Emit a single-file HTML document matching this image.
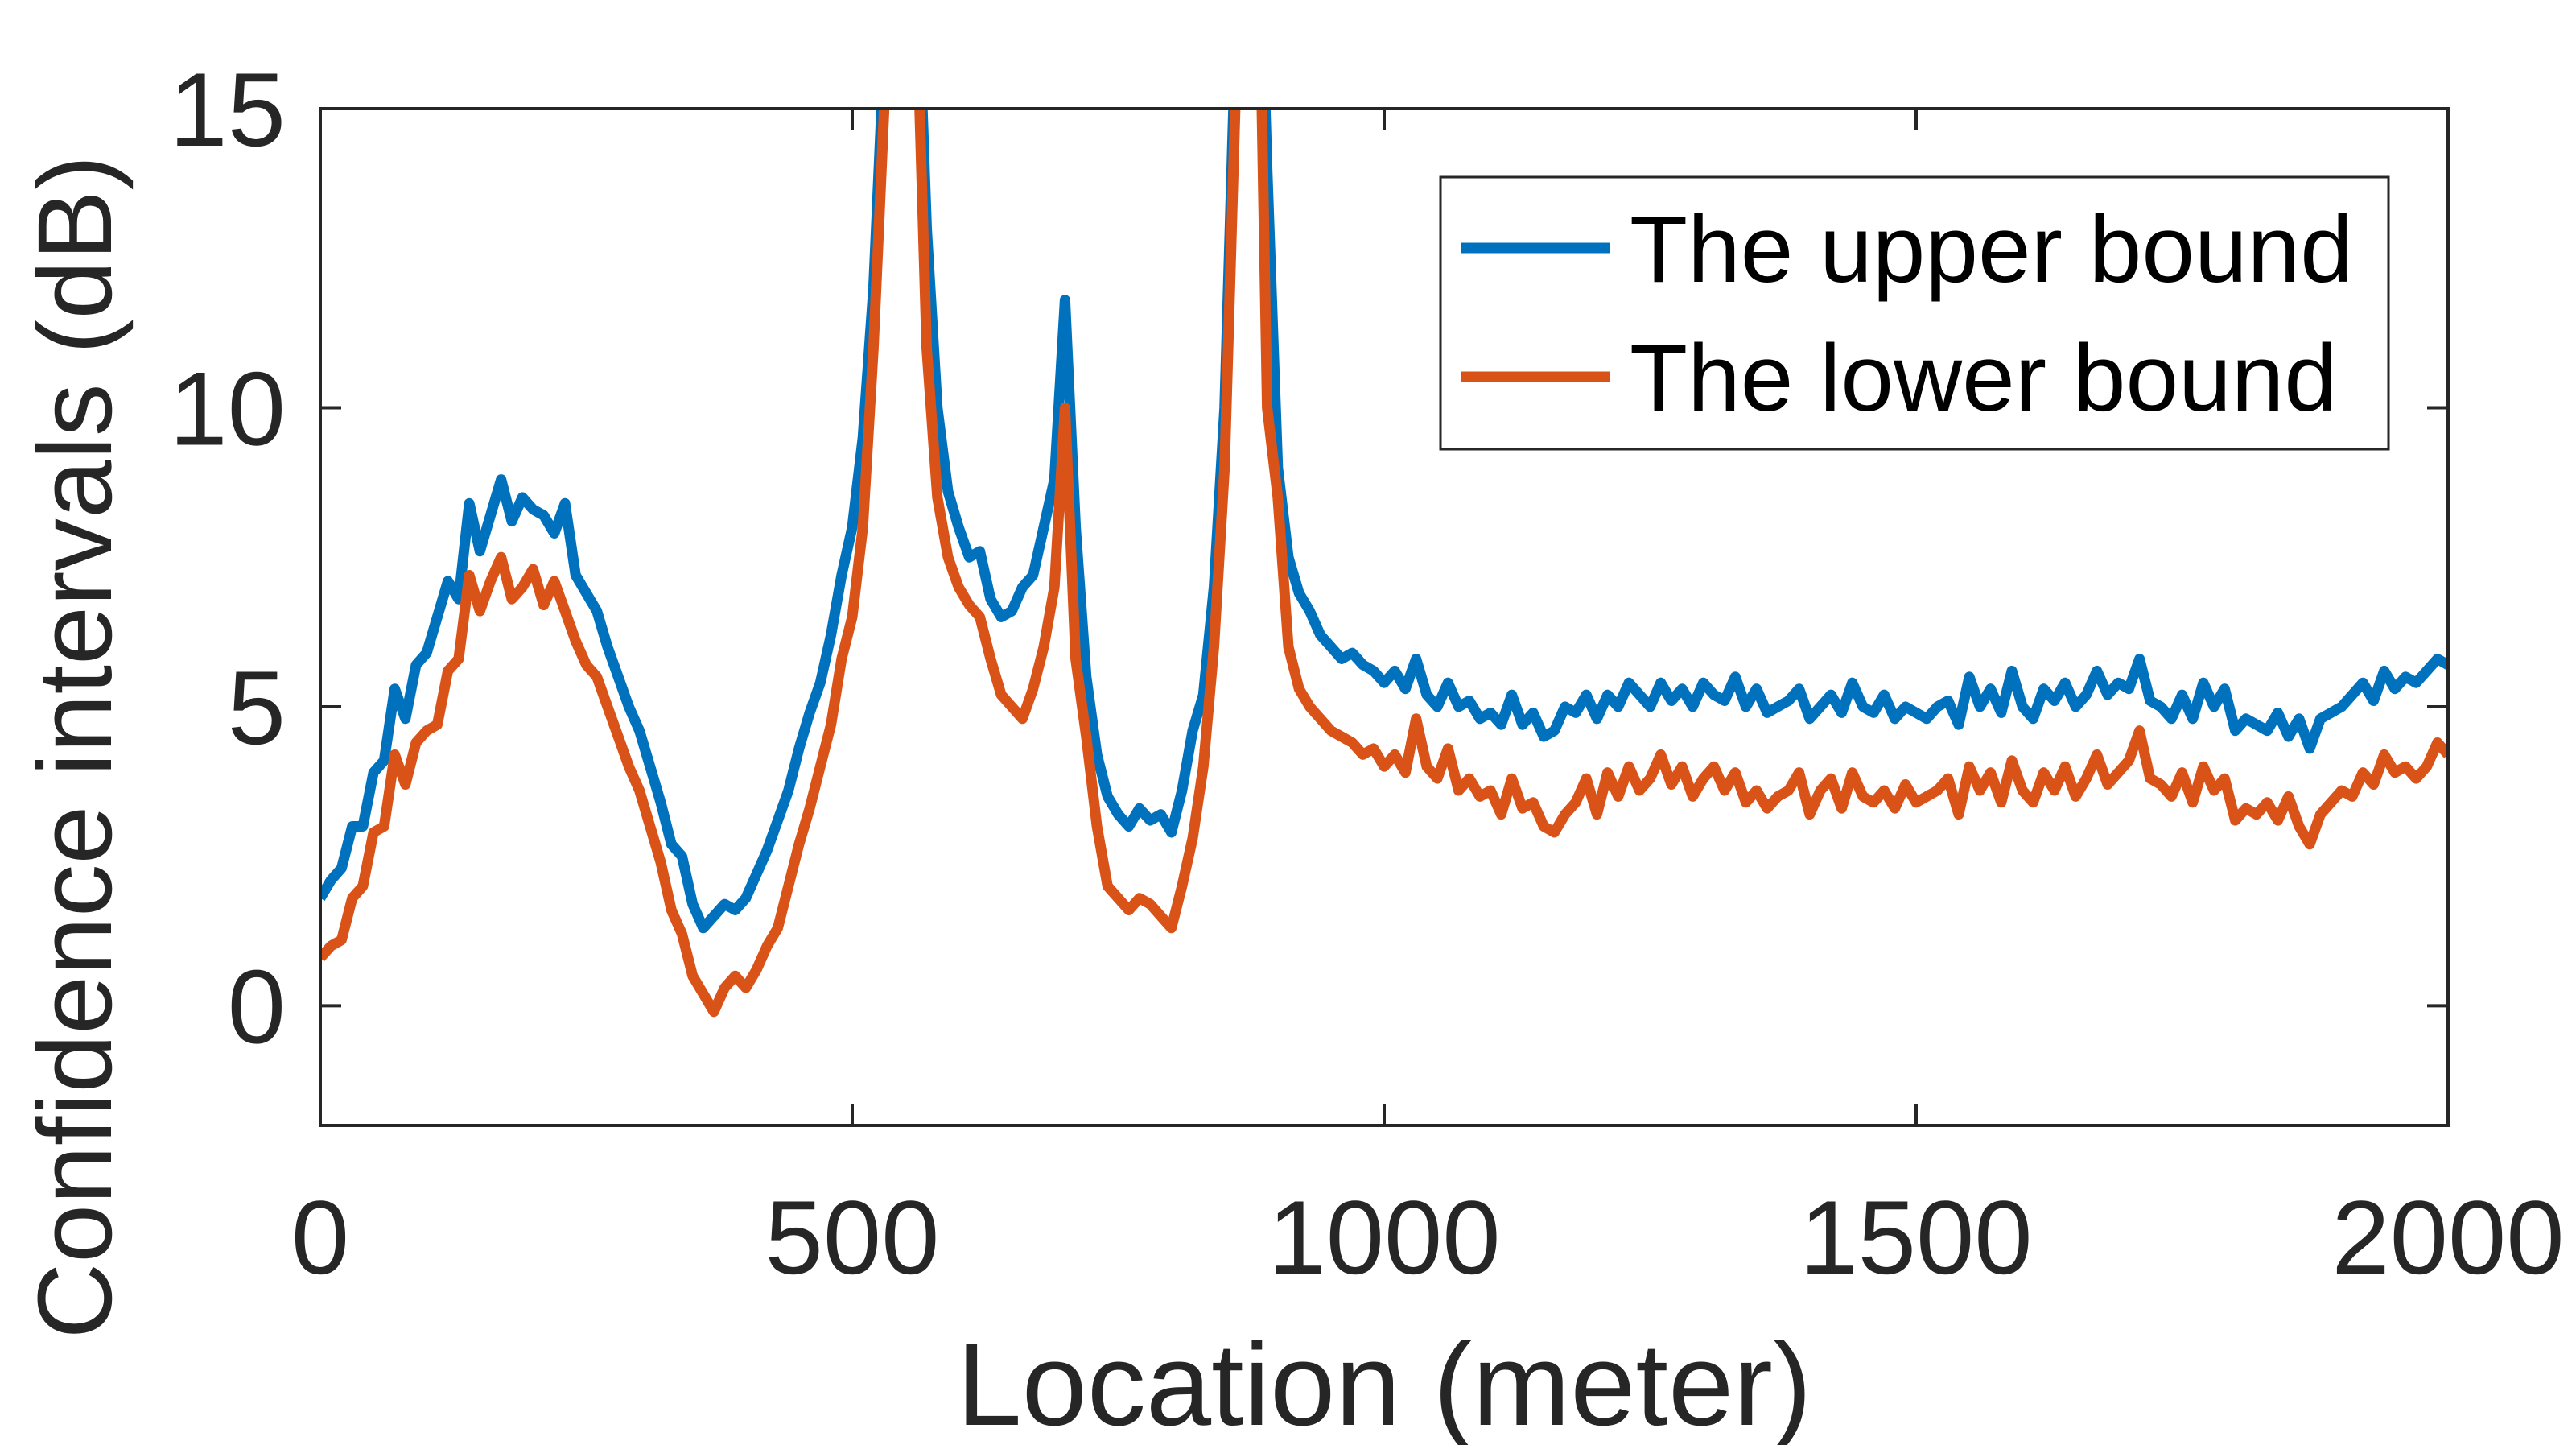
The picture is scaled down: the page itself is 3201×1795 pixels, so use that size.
<!DOCTYPE html>
<html><head><meta charset="utf-8"><style>
html,body{margin:0;padding:0;background:#fff;}
svg{display:block;font-family:"Liberation Sans",Arial,sans-serif;}
</style></head><body>
<svg id="chart" width="3201" height="1795" viewBox="0 0 3201 1795">
<defs><clipPath id="clip"><rect x="398" y="135" width="2644" height="1263"/></clipPath></defs>
<rect x="0" y="0" width="3201" height="1795" fill="#fff"/>
<g id="ticks"></g>
<g id="series" clip-path="url(#clip)"></g>
<rect x="398" y="135" width="2644" height="1263" fill="none" stroke="#262626" stroke-width="4"/>
<text x="1720" y="1770" font-size="146" fill="#262626" text-anchor="middle">Location (meter)</text>
<text transform="translate(138,928) rotate(-90)" font-size="131" fill="#262626" text-anchor="middle">Confidence intervals (dB)</text>
<g>
<rect x="1790" y="220" width="1178" height="338" fill="#fff" stroke="#262626" stroke-width="3"/>
<line x1="1816" y1="308" x2="2001" y2="308" stroke="#0072BD" stroke-width="13"/>
<text x="2025" y="350" font-size="118" fill="#000">The upper bound</text>
<line x1="1816" y1="468" x2="2001" y2="468" stroke="#D95319" stroke-width="13"/>
<text x="2025" y="510" font-size="118" fill="#000">The lower bound</text>
</g>
</svg>
<script>
const xStep = 10;
const upper = [1.8,2.1,2.3,3.0,3.0,3.9,4.1,5.3,4.8,5.7,5.9,6.5,7.1,6.8,8.4,7.6,8.2,8.8,8.1,8.5,8.3,8.2,7.9,8.4,7.2,6.9,6.6,6.0,5.5,5.0,4.6,4.0,3.4,2.7,2.5,1.7,1.3,1.5,1.7,1.6,1.8,2.2,2.6,3.1,3.6,4.3,4.9,5.4,6.2,7.2,8.0,9.5,12,16,20,20,18,13,10,8.6,8.0,7.5,7.6,6.8,6.5,6.6,7.0,7.2,8.0,8.8,11.8,8.0,5.5,4.2,3.5,3.2,3.0,3.3,3.1,3.2,2.9,3.6,4.6,5.2,7.0,10,16,20,20,14,9,7.5,6.9,6.6,6.2,6.0,5.8,5.9,5.7,5.6,5.4,5.6,5.3,5.8,5.2,5.0,5.4,5.0,5.1,4.8,4.9,4.7,5.2,4.7,4.9,4.5,4.6,5.0,4.9,5.2,4.8,5.2,5.0,5.4,5.2,5.0,5.4,5.1,5.3,5.0,5.4,5.2,5.1,5.5,5.0,5.3,4.9,5.0,5.1,5.3,4.8,5.0,5.2,4.9,5.4,5.0,4.9,5.2,4.8,5.0,4.9,4.8,5.0,5.1,4.7,5.5,5.0,5.3,4.9,5.6,5.0,4.8,5.3,5.1,5.4,5.0,5.2,5.6,5.2,5.4,5.3,5.8,5.1,5.0,4.8,5.2,4.8,5.4,5.0,5.3,4.6,4.8,4.7,4.6,4.9,4.5,4.8,4.3,4.8,4.9,5.0,5.2,5.4,5.1,5.6,5.3,5.5,5.4,5.6,5.8,5.7];
const lower = [0.8,1.0,1.1,1.8,2.0,2.9,3.0,4.2,3.7,4.4,4.6,4.7,5.6,5.8,7.2,6.6,7.1,7.5,6.8,7.0,7.3,6.7,7.1,6.6,6.1,5.7,5.5,5.0,4.5,4.0,3.6,3.0,2.4,1.6,1.2,0.5,0.2,-0.1,0.3,0.5,0.3,0.6,1.0,1.3,2.0,2.7,3.3,4.0,4.7,5.8,6.5,8.0,11,15,20,20,17,11,8.5,7.5,7.0,6.7,6.5,5.8,5.2,5.0,4.8,5.3,6.0,7.0,10.0,5.8,4.5,3.0,2.0,1.8,1.6,1.8,1.7,1.5,1.3,2.0,2.8,4.0,6.0,9,15,20,20,10,8.5,6.0,5.3,5.0,4.8,4.6,4.5,4.4,4.2,4.3,4.0,4.2,3.9,4.8,4.0,3.8,4.3,3.6,3.8,3.5,3.6,3.2,3.8,3.3,3.4,3.0,2.9,3.2,3.4,3.8,3.2,3.9,3.5,4.0,3.6,3.8,4.2,3.7,4.0,3.5,3.8,4.0,3.6,3.9,3.4,3.6,3.3,3.5,3.6,3.9,3.2,3.6,3.8,3.3,3.9,3.5,3.4,3.6,3.3,3.7,3.4,3.5,3.6,3.8,3.2,4.0,3.6,3.9,3.4,4.1,3.6,3.4,3.9,3.6,4.0,3.5,3.8,4.2,3.7,3.9,4.1,4.6,3.8,3.7,3.5,3.9,3.4,4.0,3.6,3.8,3.1,3.3,3.2,3.4,3.1,3.5,3.0,2.7,3.2,3.4,3.6,3.5,3.9,3.7,4.2,3.9,4.0,3.8,4.0,4.4,4.2];
const xTicks = [0,500,1000,1500,2000];
const yTicks = [0,5,10,15];
const X0=398,X1=3042,Y0=1398,Y1=135,XMIN=0,XMAX=2000,YMIN=-2,YMAX=15;
const NS="http://www.w3.org/2000/svg";
function sx(v){return X0+(v-XMIN)/(XMAX-XMIN)*(X1-X0);}
function sy(v){return Y0-(v-YMIN)/(YMAX-YMIN)*(Y0-Y1);}
const ticks=document.getElementById('ticks');
const svg=document.getElementById('chart');
xTicks.forEach(t=>{
  const x=sx(t);
  const l1=document.createElementNS(NS,'path');
  l1.setAttribute('d',`M${x},${Y0}V${Y0-26}M${x},${Y1}V${Y1+26}`);
  l1.setAttribute('stroke','#262626');l1.setAttribute('stroke-width','4');
  
  
  ticks.appendChild(l1);
  const tx=document.createElementNS(NS,'text');
  tx.setAttribute('x',x);tx.setAttribute('y',1582);
  tx.setAttribute('font-size','130');tx.setAttribute('fill','#262626');tx.setAttribute('text-anchor','middle');
  tx.textContent=t;
  
  
  svg.appendChild(tx);
});
yTicks.forEach(t=>{
  const y=sy(t);
  const l1=document.createElementNS(NS,'path');
  l1.setAttribute('d',`M${X0},${y}H${X0+26}M${X1},${y}H${X1-26}`);
  l1.setAttribute('stroke','#262626');l1.setAttribute('stroke-width','4');
  
  
  ticks.appendChild(l1);
  const tx=document.createElementNS(NS,'text');
  tx.setAttribute('x',355);tx.setAttribute('y',y+46);
  tx.setAttribute('font-size','130');tx.setAttribute('fill','#262626');tx.setAttribute('text-anchor','end');
  tx.textContent=t;
  
  
  svg.appendChild(tx);
});
const series=document.getElementById('series');
function draw(vals,color,name){
  const p=document.createElementNS(NS,'polyline');
  p.setAttribute('points',vals.map((v,i)=>sx(i*xStep).toFixed(1)+','+sy(v).toFixed(1)).join(' '));
  p.setAttribute('fill','none');p.setAttribute('stroke',color);p.setAttribute('stroke-width','13');
  p.setAttribute('stroke-linejoin','round');
  
  
  series.appendChild(p);
}
draw(upper,'#0072BD','upper-bound-line');
draw(lower,'#D95319','lower-bound-line');
</script>
</body></html>
